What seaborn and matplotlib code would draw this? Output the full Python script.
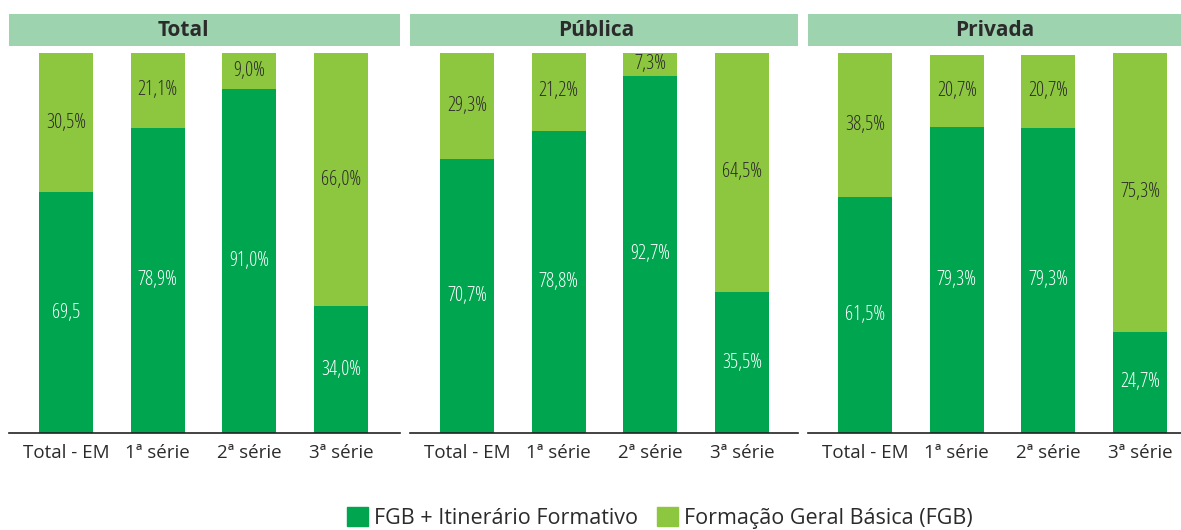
import matplotlib
matplotlib.use("Agg")
import matplotlib.pyplot as plt
import matplotlib.patches as mpatches
from matplotlib.font_manager import FontProperties
import seaborn as sns
import pandas as pd

categories = ["Total - EM", "1ª série", "2ª série", "3ª série"]
panels = ["Total", "Pública", "Privada"]
# segment heights as drawn in the picture (percent of the axis height)
fgb_itinerario = {
    "Total": [63.4, 80.3, 90.5, 33.4],
    "Pública": [72.1, 79.6, 94.0, 37.1],
    "Privada": [62.1, 80.5, 80.3, 26.6],
}
fgb_basica = {
    "Total": [36.6, 19.7, 9.5, 66.6],
    "Pública": [27.9, 20.7, 6.3, 63.2],
    "Privada": [37.9, 19.0, 19.2, 73.4],
}
# value labels as printed
labels_itinerario = {
    "Total": ["69,5", "78,9%", "91,0%", "34,0%"],
    "Pública": ["70,7%", "78,8%", "92,7%", "35,5%"],
    "Privada": ["61,5%", "79,3%", "79,3%", "24,7%"],
}
labels_basica = {
    "Total": ["30,5%", "21,1%", "9,0%", "66,0%"],
    "Pública": ["29,3%", "21,2%", "7,3%", "64,5%"],
    "Privada": ["38,5%", "20,7%", "20,7%", "75,3%"],
}
legend_labels = ["FGB + Itinerário Formativo", "Formação Geral Básica (FGB)"]

DARK = "#00A54F"
LIGHT = "#8DC63F"
HEADER = "#9DD3AF"
TXT = "#2B2B2B"

sns.set_theme(style="white")
plt.rcParams["font.family"] = ["Open Sans", "DejaVu Sans"]

label_font = FontProperties(family="Open Sans", stretch="condensed", weight="light", size=14.5)

W, H = 1181, 530
fig = plt.figure(figsize=(W / 100, H / 100), dpi=100)

geom = {"Total": (9, 400), "Pública": (410, 798), "Privada": (808, 1181)}
first_offset = 57
spacing = 91.7
ax_top, ax_bot = 53, 433
hdr_top, hdr_bot = 14, 46
title_x = {"Total": 0.445, "Pública": 0.48, "Privada": 0.5}

for p in panels:
    l, r = geom[p]
    ax = fig.add_axes([l / W, 1 - ax_bot / H, (r - l) / W, (ax_bot - ax_top) / H])
    df = pd.DataFrame({
        "cat": categories,
        "dark": fgb_itinerario[p],
        "light": fgb_basica[p],
    })
    df["total"] = df["dark"] + df["light"]
    sns.barplot(data=df, x="cat", y="total", color=LIGHT, width=0.59,
                saturation=1, ax=ax, order=categories, linewidth=0)
    sns.barplot(data=df, x="cat", y="dark", color=DARK, width=0.59,
                saturation=1, ax=ax, order=categories, linewidth=0)
    ax.set_xlim(-first_offset / spacing, 3 + (r - l - first_offset - 3 * spacing) / spacing)
    ax.set_ylim(0, 100)
    ax.set_xlabel("")
    ax.set_ylabel("")
    ax.set_yticks([])
    for s in ["top", "right", "left"]:
        ax.spines[s].set_visible(False)
    ax.spines["bottom"].set_color("#222222")
    ax.spines["bottom"].set_linewidth(1.2)
    ax.tick_params(axis="x", length=0, pad=8, labelsize=13.5, labelcolor=TXT)
    for i in range(len(categories)):
        d = df["dark"][i]
        lt = df["light"][i]
        ax.text(i, d / 2, labels_itinerario[p][i], ha="center", va="center",
                color="white", fontproperties=label_font)
        ax.text(i, d + lt / 2, labels_basica[p][i], ha="center", va="center",
                color=TXT, fontproperties=label_font)
    hax = fig.add_axes([l / W, 1 - hdr_bot / H, (r - l) / W, (hdr_bot - hdr_top) / H])
    hax.set_facecolor(HEADER)
    hax.set_xticks([])
    hax.set_yticks([])
    for s in hax.spines.values():
        s.set_visible(False)
    hax.text(title_x[p], 0.5, p, ha="center", va="center", fontsize=15,
             fontweight="bold", color=TXT, transform=hax.transAxes)

handles = [mpatches.Patch(color=DARK, label=legend_labels[0]),
           mpatches.Patch(color=LIGHT, label=legend_labels[1])]
fig.legend(handles=handles, loc="center", bbox_to_anchor=(660 / W, 1 - 518 / H),
           ncol=2, frameon=False, fontsize=15.5, handlelength=0.95, handleheight=0.95,
           handletextpad=0.3, columnspacing=0.9, labelcolor=TXT)

fig.savefig("out.png", dpi=100)
